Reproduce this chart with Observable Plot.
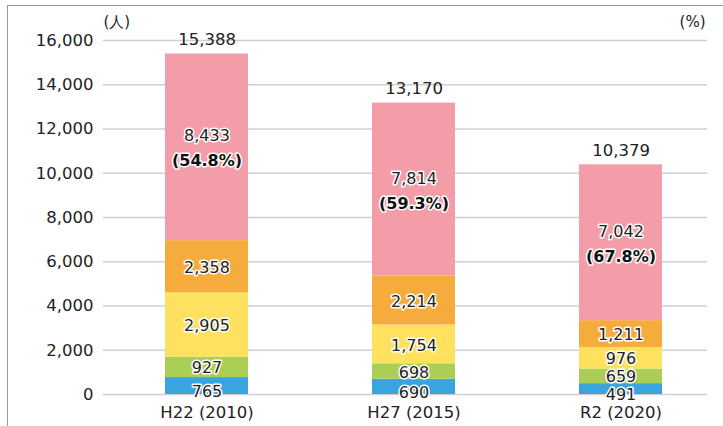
<!DOCTYPE html>
<html><head><meta charset="utf-8">
<script src="https://cdn.jsdelivr.net/npm/d3@7"></script>
<script src="https://cdn.jsdelivr.net/npm/@observablehq/plot@0.6"></script>
<style>
body{margin:0;background:#fff;}
#wrap{position:relative;width:723px;height:426px;overflow:hidden;}
#frame{position:absolute;left:7px;top:5px;width:800px;height:500px;border-top:1.5px solid #9a9a9a;border-left:1.5px solid #9a9a9a;}
#chart{position:absolute;left:0;top:0;}
svg{overflow:visible;}
</style></head><body>
<div id="wrap"><div id="frame"></div><div id="chart"></div></div>
<script>
const years = ["H22 (2010)", "H27 (2015)", "R2 (2020)"];
const groups = ["区分1", "区分2", "区分3", "区分4", "区分5"];
const groupColors = ["#3aa4df", "#abcf55", "#fee15f", "#f5ac3d", "#f29da8"];
const group1 = [765, 690, 491];
const group2 = [927, 698, 659];
const group3 = [2905, 1754, 976];
const group4 = [2358, 2214, 1211];
const group5 = [8433, 7814, 7042];
const totals = [15388, 13170, 10379];
const shares = ["(54.8%)", "(59.3%)", "(67.8%)"];
const yTicks = [0, 2000, 4000, 6000, 8000, 10000, 12000, 14000, 16000];

const series = [group1, group2, group3, group4, group5];
const data = [];
series.forEach((vals, gi) => vals.forEach((v, i) => data.push({year: years[i], group: groups[gi], value: v})));
const totalRows = years.map((y, i) => ({year: y, total: totals[i]}));
const topRows = data.filter(d => d.group === groups[4]).map((d, i) => ({...d, share: shares[i]}));

const fmt = d3.format(",");
const font = "DejaVu Sans, sans-serif";
const halo = {fill: "#222", stroke: "white", strokeWidth: 3, fontSize: 16};
const mid = [groups[1], groups[2], groups[3]];

const chart = Plot.plot({
  width: 723,
  height: 426,
  marginTop: 40,
  marginBottom: 32,
  marginLeft: 103,
  marginRight: 16,
  style: {fontFamily: font, fontSize: "16px", color: "#222", background: "transparent"},
  x: {domain: years, range: [103, 724], paddingInner: 0.6, paddingOuter: 0.3, label: null},
  y: {domain: [0, 16000], label: null},
  color: {domain: groups, range: groupColors},
  marks: [
    Plot.ruleY(yTicks, {stroke: "#cfcfcf", strokeWidth: 1.5}),
    Plot.axisY({ticks: yTicks, tickFormat: fmt, tickSize: 0, tickPadding: 10, fontSize: 16.5, label: null}),
    Plot.axisX({tickSize: 0, tickPadding: 12, fontSize: 16.5, label: null}),
    Plot.barY(data, {x: "year", y: "value", fill: "group"}),
    Plot.text(data, Plot.stackY({x: "year", y: "value", z: "group", text: d => mid.includes(d.group) ? fmt(d.value) : null, ...halo, dy: 1})),
    Plot.text(data, Plot.stackY({x: "year", y: "value", z: "group", text: d => d.group === groups[0] ? fmt(d.value) : null, ...halo, dy: 6})),
    Plot.text(topRows, {x: "year", y: d => totals[years.indexOf(d.year)] - d.value / 2, text: d => fmt(d.value), ...halo, dy: -11}),
    Plot.text(topRows, {x: "year", y: d => totals[years.indexOf(d.year)] - d.value / 2, text: "share", ...halo, fill: "#111", fontWeight: "bold", dy: 14}),
    Plot.text(totalRows, {x: "year", y: "total", text: d => fmt(d.total), fill: "#222", fontSize: 16.5, dy: -14}),
    Plot.text(["(人)"], {frameAnchor: "top-left", textAnchor: "start", dx: 0, dy: -24, fontSize: 15, fill: "#222"}),
    Plot.text(["(%)"], {frameAnchor: "top-right", dx: -2, dy: -24, fontSize: 15, fill: "#222"})
  ]
});
document.getElementById("chart").appendChild(chart);
</script>
</body></html>
